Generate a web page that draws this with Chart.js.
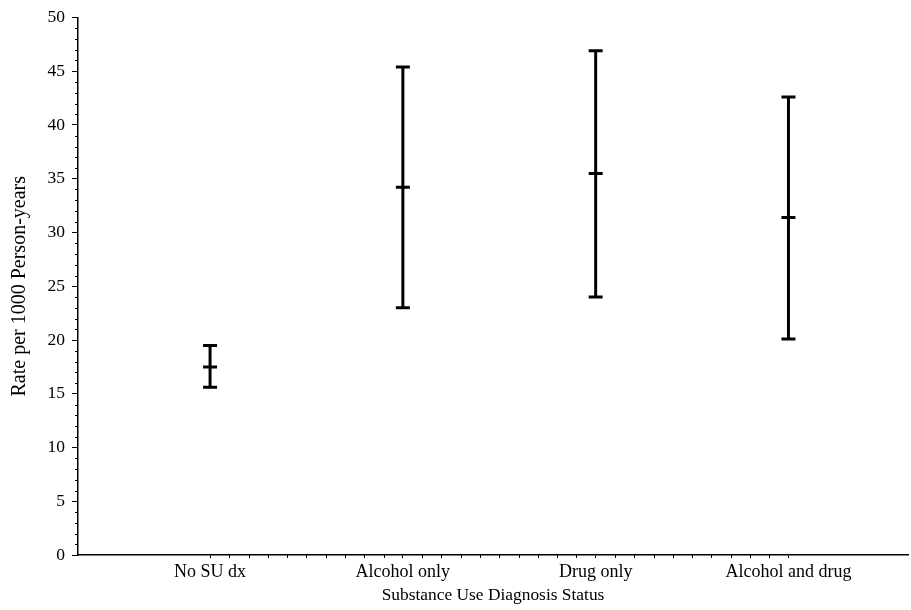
<!DOCTYPE html>
<html>
<head>
<meta charset="utf-8">
<script src="https://cdn.jsdelivr.net/npm/chart.js@4"></script>
<style>
  html, body { margin: 0; padding: 0; background: #fff; overflow: hidden; }
  canvas { display: block; }
</style>
</head>
<body>
<canvas id="rateChart" width="911" height="610"></canvas>
<script>
// data
const categories = ['No SU dx', 'Alcohol only', 'Drug only', 'Alcohol and drug'];
const rates = [17.5, 34.2, 35.5, 31.4];     // point estimate
const lowerCI = [15.6, 23.0, 24.0, 20.1];   // lower limit
const upperCI = [19.5, 45.4, 46.9, 42.6];   // upper limit
const yTicks = [0, 5, 10, 15, 20, 25, 30, 35, 40, 45, 50];

const serif = '"Liberation Serif", "Times New Roman", serif';

// vertical whiskers, one segment per category separated by gaps
const whiskers = [];
categories.forEach((c, i) => {
    whiskers.push({ x: i + 1, y: lowerCI[i] });
    whiskers.push({ x: i + 1, y: upperCI[i] });
    whiskers.push({ x: i + 1, y: null });
});
const caps = [];
categories.forEach((c, i) => {
    caps.push({ x: i + 1, y: lowerCI[i] });
    caps.push({ x: i + 1, y: upperCI[i] });
});
const centers = rates.map((v, i) => ({ x: i + 1, y: v }));

// small ticks between the labelled ones
const minorTicks = {
    id: 'minorTicks',
    afterDraw(chart) {
        const { ctx, scales: { x, y } } = chart;
        ctx.save();
        ctx.strokeStyle = '#000';
        ctx.lineWidth = 1;
        ctx.beginPath();
        for (let v = 1; v < 50; v++) {
            if (v % 5 === 0) continue;
            const py = Math.round(y.getPixelForValue(v)) + 0.5;
            ctx.moveTo(x.left - 3, py);
            ctx.lineTo(x.left, py);
        }
        for (let i = 10; i <= 40; i++) {
            if (i % 10 === 0) continue;
            const px = Math.round(x.getPixelForValue(i / 10)) + 0.5;
            ctx.moveTo(px, y.bottom);
            ctx.lineTo(px, y.bottom + 3);
        }
        ctx.stroke();
        ctx.restore();
    }
};

const ctx = document.getElementById('rateChart').getContext('2d');
const rateChart = new Chart(ctx, {
    type: 'scatter',
    data: {
        datasets: [
            {
                type: 'line',
                data: whiskers,
                borderColor: '#000',
                borderWidth: 3,
                pointRadius: 0,
                spanGaps: false,
                fill: false
            },
            {
                data: caps,
                pointStyle: 'line',
                pointRadius: 7,
                borderColor: '#000',
                borderWidth: 3
            },
            {
                data: centers,
                pointStyle: 'line',
                pointRadius: 7,
                borderColor: '#000',
                borderWidth: 3
            }
        ]
    },
    options: {
        responsive: false,
        animation: false,
        layout: { autoPadding: false, padding: { top: 15, right: 3, left: 4, bottom: 0 } },
        plugins: {
            legend: { display: false },
            tooltip: { enabled: false }
        },
        scales: {
            x: {
                type: 'linear',
                min: 0.315,
                max: 4.62,
                afterBuildTicks: (scale) => {
                    scale.ticks = categories.map((c, i) => ({ value: i + 1 }));
                },
                afterFit: (scale) => {
                    scale.height = 55;
                    scale.paddingLeft = 0;
                    scale.paddingRight = 0;
                },
                ticks: {
                    color: '#000',
                    font: { family: serif, size: 18 },
                    padding: 3,
                    maxRotation: 0,
                    callback: (v) => categories[v - 1]
                },
                grid: { drawOnChartArea: false, drawTicks: true, tickLength: 3, color: '#000' },
                border: { color: '#000', width: 1.5 },
                title: {
                    display: true,
                    text: 'Substance Use Diagnosis Status',
                    color: '#000',
                    font: { family: serif, size: 17.4 },
                    padding: { top: 0 }
                }
            },
            y: {
                min: 0,
                max: 50,
                afterBuildTicks: (scale) => {
                    scale.ticks = yTicks.map(v => ({ value: v }));
                },
                afterFit: (scale) => { scale.width = 74; },
                ticks: {
                    color: '#000',
                    font: { family: serif, size: 17.5 },
                    padding: 7
                },
                grid: { drawOnChartArea: false, drawTicks: true, tickLength: 6, color: '#000' },
                border: { color: '#000', width: 1.5 },
                title: {
                    display: true,
                    text: 'Rate per 1000 Person-years',
                    color: '#000',
                    font: { family: serif, size: 20 },
                    padding: { bottom: 0 }
                }
            }
        }
    },
    plugins: [minorTicks]
});
</script>
</body>
</html>
